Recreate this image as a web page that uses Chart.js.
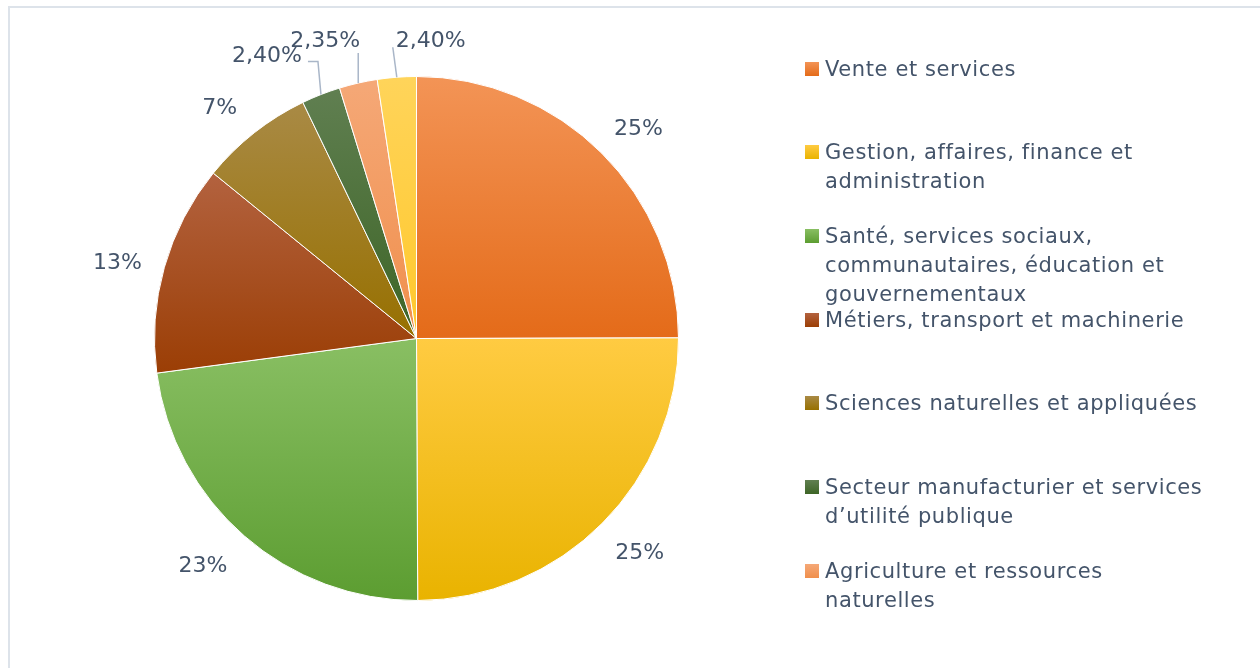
<!DOCTYPE html>
<html>
<head>
<meta charset="utf-8">
<script src="https://cdn.jsdelivr.net/npm/chart.js@4.4.1/dist/chart.umd.min.js"></script>
<style>
    html, body { margin: 0; padding: 0; background: #fff; }
    #wrap { position: relative; width: 1260px; height: 668px; overflow: hidden; }
    #frame { position: absolute; left: 8px; top: 6px; width: 1300px; height: 700px;
             border-top: 2px solid #dde3ea; border-left: 2px solid #dde3ea; }
    #pie { position: absolute; left: 0; top: 0; }
    #legend { position: absolute; left: 805px; top: 0; font-family: "DejaVu Sans", sans-serif;
              font-size: 21px; color: #44546a; letter-spacing: 0.6px; }
    .item { position: absolute; left: 0; width: 420px; }
    .box { position: absolute; left: 0; top: 7px; width: 14px; height: 14px; }
    .txt { margin-left: 20px; width: 386px; line-height: 29px; }
</style>
</head>
<body>
<div id="wrap">
    <div id="frame"></div>
    <canvas id="pie" width="1260" height="668"></canvas>
    <div id="legend"></div>
</div>
<script>
const categories = [
    'Vente et services',
    'Gestion, affaires, finance et administration',
    'Santé, services sociaux, communautaires, éducation et gouvernementaux',
    'Métiers, transport et machinerie',
    'Sciences naturelles et appliquées',
    'Secteur manufacturier et services d’utilité publique',
    'Agriculture et ressources naturelles',
    'Autres'
];
const shares = [25, 25, 23, 13, 7, 2.40, 2.35, 2.40];

// slice colours, light at the top of each slice, darker at its bottom
const sliceTop = ['#f39456', '#ffcb42', '#89bf63', '#b3623f', '#a98a45', '#607f51', '#f5a877', '#ffd45a'];
const sliceBottom = ['#e46b19', '#e9b300', '#5c9d31', '#9b3e05', '#977000', '#3d6526', '#f08f4c', '#ffc82c'];

const legendCount = 7;   // the last entry is cut off in the original
const pieRadius = 262;
const labelGap = 21;
// small nudges so the outside labels sit where Excel put them
const labelNudge = [[6, 5], [6, -3], [-13, -5], [-2, 6], [-11, 3]];
// small slices: label offset and leader line, relative to the slice's edge point
const leaders = {
    5: { label: [-54, -41], path: [[-3, -33], [-13, -33]] },
    6: { label: [-33, -44], path: [[0, -30]] },
    7: { label: [34, -38.5], path: [[-4, -30]] }
};

function fmt(v) {
    return Number.isInteger(v) ? v + '%' : v.toFixed(2).replace('.', ',') + '%';
}

function sliceGradient(context) {
    const chart = context.chart;
    const area = chart.chartArea;
    const i = context.dataIndex;
    if (!area) return sliceBottom[i];
    const cy = (area.top + area.bottom) / 2;
    const total = shares.reduce((a, b) => a + b, 0);
    let before = 0;
    for (let k = 0; k < i; k++) before += shares[k];
    const a0 = -Math.PI / 2 + before / total * 2 * Math.PI;
    const a1 = a0 + shares[i] / total * 2 * Math.PI;
    const ys = [cy, cy + pieRadius * Math.sin(a0), cy + pieRadius * Math.sin(a1)];
    [-Math.PI / 2, Math.PI / 2, 3 * Math.PI / 2].forEach(function(a) {
        if (a > a0 && a < a1) ys.push(cy + pieRadius * Math.sin(a));
    });
    const g = chart.ctx.createLinearGradient(0, Math.min(...ys), 0, Math.max(...ys));
    g.addColorStop(0, sliceTop[i]);
    g.addColorStop(1, sliceBottom[i]);
    return g;
}

const pieLabels = {
    id: 'pieLabels',
    afterDatasetsDraw(chart) {
        const ctx = chart.ctx;
        const arcs = chart.getDatasetMeta(0).data;
        ctx.save();
        ctx.font = '22px "DejaVu Sans"';
        ctx.fillStyle = '#44546a';
        ctx.strokeStyle = '#a9b6c8';
        ctx.lineWidth = 1.5;
        ctx.textAlign = 'center';
        ctx.textBaseline = 'alphabetic';
        arcs.forEach(function(arc, i) {
            const p = arc.getProps(['x', 'y', 'startAngle', 'endAngle', 'outerRadius']);
            const mid = (p.startAngle + p.endAngle) / 2;
            const dx = Math.cos(mid), dy = Math.sin(mid);
            const ex = p.x + dx * p.outerRadius, ey = p.y + dy * p.outerRadius;
            const text = fmt(shares[i]);
            let lx, ly;
            const lead = leaders[i];
            if (lead) {
                ctx.beginPath();
                ctx.moveTo(ex, ey);
                lead.path.forEach(function(pt) { ctx.lineTo(ex + pt[0], ey + pt[1]); });
                ctx.stroke();
                lx = ex + lead.label[0];
                ly = ey + lead.label[1];
            } else {
                const w = ctx.measureText(text).width, h = 16;
                const ext = Math.abs(dx) * w / 2 + Math.abs(dy) * h / 2;
                const nudge = labelNudge[i] || [0, 0];
                lx = ex + dx * (labelGap + ext) + nudge[0];
                ly = ey + dy * (labelGap + ext) + nudge[1];
            }
            ctx.fillText(text, lx, ly + 8);
        });
        ctx.restore();
    }
};

new Chart(document.getElementById('pie').getContext('2d'), {
    type: 'pie',
    data: {
        labels: categories,
        datasets: [{
            data: shares,
            backgroundColor: sliceGradient,
            borderColor: '#ffffff',
            borderWidth: 1,
            radius: pieRadius
        }]
    },
    options: {
        responsive: false,
        animation: false,
        layout: { padding: { left: 154, right: 581, top: 76, bottom: 67 } },
        plugins: {
            legend: { display: false },
            tooltip: { enabled: false }
        }
    },
    plugins: [pieLabels]
});

// legend on the right, fixed pitch like the original
const legendEl = document.getElementById('legend');
for (let i = 0; i < legendCount; i++) {
    const item = document.createElement('div');
    item.className = 'item';
    item.style.top = (54.8 + i * 83.67) + 'px';
    const box = document.createElement('div');
    box.className = 'box';
    box.style.background = 'linear-gradient(' + sliceTop[i] + ', ' + sliceBottom[i] + ')';
    const txt = document.createElement('div');
    txt.className = 'txt';
    txt.textContent = categories[i];
    item.appendChild(box);
    item.appendChild(txt);
    legendEl.appendChild(item);
}
</script>
</body>
</html>
